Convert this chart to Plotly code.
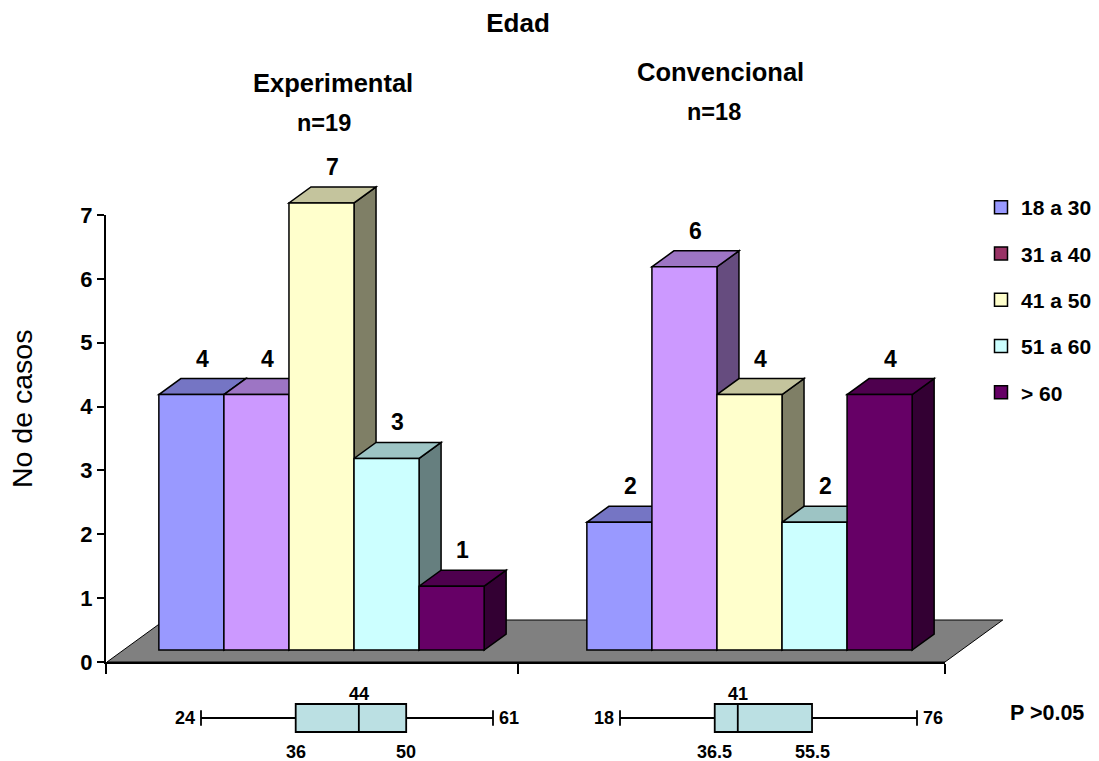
import plotly.graph_objects as go

# ---------------- data ----------------
groups = ["Experimental", "Convencional"]
group_n = ["n=19", "n=18"]
age_ranges = ["18 a 30", "31 a 40", "41 a 50", "51 a 60", "> 60"]
counts_experimental = [4, 4, 7, 3, 1]
counts_convencional = [2, 6, 4, 2, 4]
y_ticks = [0, 1, 2, 3, 4, 5, 6, 7]
box_experimental = {"lowerfence": 24, "q1": 36, "median": 44, "q3": 50, "upperfence": 61}
box_convencional = {"lowerfence": 18, "q1": 36.5, "median": 41, "q3": 55.5, "upperfence": 76}
title_text = "Edad"
y_title = "No de casos"
p_text = "P >0.05"

# ---------------- styles ----------------
bar_colors = ["#9999FF", "#CC99FF", "#FFFFCC", "#CCFFFF", "#660066"]
legend_colors = ["#9999FF", "#993366", "#FFFFCC", "#CCFFFF", "#660066"]
FONT = "Liberation Sans, Arial, sans-serif"
W, H = 1099, 761


def shade(hex_color, f):
    h = hex_color.lstrip("#")
    r, g, b = (int(h[i:i + 2], 16) for i in (0, 2, 4))
    return "#%02X%02X%02X" % (int(r * f), int(g * f), int(b * f))


def dom_x(a, b):
    return [a / W, b / W]


def dom_y(top, bottom):
    return [1 - bottom / H, 1 - top / H]


# layout geometry (pixels) of the bars' front plane
CAT0_PX, CAT_PX = 321.5, 428.0      # group 0 centre, px per category
ZERO_PX, UNIT_PX = 650.0, 63.86      # value-0 line of bar fronts, px per case
DATA_DOM_X = (100, 1015)
DATA_DOM_Y = (150, 672)
x_range = [(DATA_DOM_X[0] - CAT0_PX) / CAT_PX, (DATA_DOM_X[1] - CAT0_PX) / CAT_PX]
y_range = [(ZERO_PX - DATA_DOM_Y[1]) / UNIT_PX, (ZERO_PX - DATA_DOM_Y[0]) / UNIT_PX]
DX = 22 / CAT_PX     # depth vector in data units
DY = 16 / UNIT_PX
FLOOR_X = (-0.4626, 1.4953)          # floor extent (category units)
FLOOR_FRONT, FLOOR_BACK = -0.75, 1.875  # in bar-depth units
BARGAP = 0.24
slot = 1 - BARGAP
bw = slot / len(age_ranges)

fig = go.Figure()

series = [[counts_experimental[i], counts_convencional[i]] for i in range(len(age_ranges))]
gpos = list(range(len(groups)))

# front faces
for i, name in enumerate(age_ranges):
    fig.add_trace(go.Bar(
        x=gpos, y=series[i], name=name, showlegend=False,
        marker=dict(color=bar_colors[i], line=dict(color="black", width=1.5)),
        hoverinfo="skip", xaxis="x", yaxis="y"))

# legend entries
for i, name in enumerate(age_ranges):
    fig.add_trace(go.Scatter(
        x=[None], y=[None], mode="markers", name=name, legendgroup=name,
        marker=dict(symbol="square", size=13, color=legend_colors[i],
                    line=dict(color="black", width=1.5)),
        xaxis="x", yaxis="y"))

# placeholder so the visible value / category axes get drawn
fig.add_trace(go.Scatter(x=[None], y=[None], mode="markers", showlegend=False,
                         hoverinfo="skip", xaxis="x2", yaxis="y2"))


def path(pts):
    return "M " + " L ".join("%f,%f" % p for p in pts) + " Z"


shapes = []
# floor
fx0, fx1 = FLOOR_X
floor = [(fx0 + FLOOR_FRONT * DX, FLOOR_FRONT * DY), (fx1 + FLOOR_FRONT * DX, FLOOR_FRONT * DY),
         (fx1 + FLOOR_BACK * DX, FLOOR_BACK * DY), (fx0 + FLOOR_BACK * DX, FLOOR_BACK * DY)]
shapes.append(dict(type="path", path=path(floor), xref="x", yref="y", layer="below",
                   fillcolor="#808080", line=dict(color="black", width=1)))

annotations = []
for g in gpos:
    for i in range(len(age_ranges)):
        v = series[i][g]
        x0 = g - slot / 2 + i * bw
        x1 = x0 + bw
        side = [(x1, 0), (x1, v), (x1 + DX, v + DY), (x1 + DX, DY)]
        top = [(x0, v), (x1, v), (x1 + DX, v + DY), (x0 + DX, v + DY)]
        shapes.append(dict(type="path", path=path(side), xref="x", yref="y", layer="below",
                           fillcolor=shade(bar_colors[i], 0.5), line=dict(color="black", width=1.5)))
        shapes.append(dict(type="path", path=path(top), xref="x", yref="y", layer="below",
                           fillcolor=shade(bar_colors[i], 0.77), line=dict(color="black", width=1.5)))
        annotations.append(dict(x=(x0 + x1) / 2 + DX / 2, y=v + DY, xref="x", yref="y",
                                text=str(v), showarrow=False, yshift=20, yanchor="middle",
                                font=dict(family=FONT, size=23, color="black", weight="bold")))

# group headings
heading_px = [((333, 83), (324, 123)), ((720, 72), (714, 112))]
for g, ((hx, hy), (nx, ny)) in enumerate(heading_px):
    annotations.append(dict(x=hx / W, y=1 - hy / H, xref="paper", yref="paper", text=groups[g],
                            showarrow=False, xanchor="center", yanchor="middle",
                            font=dict(family=FONT, size=25.5, color="black", weight="bold")))
    annotations.append(dict(x=nx / W, y=1 - ny / H, xref="paper", yref="paper", text=group_n[g],
                            showarrow=False, xanchor="center", yanchor="middle",
                            font=dict(family=FONT, size=23.5, color="black", weight="bold")))

# y axis title
annotations.append(dict(x=22 / W, y=1 - 409 / H, xref="paper", yref="paper", text=y_title,
                        textangle=-90, showarrow=False, xanchor="center", yanchor="middle",
                        font=dict(family=FONT, size=28.5, color="black")))

# box plots (summary under each group)
box_specs = [(box_experimental, "x3", "y3", (201, 493), (170, 530)),
             (box_convencional, "x4", "y4", (620, 917), (585, 955))]
box_axes = {}
for stats, xa, ya, (p_lo, p_hi), (d0, d1) in box_specs:
    s = (p_hi - p_lo) / (stats["upperfence"] - stats["lowerfence"])
    rng = [stats["lowerfence"] - (p_lo - d0) / s, stats["upperfence"] + (d1 - p_hi) / s]
    box_axes[xa] = (dom_x(d0, d1), rng)
    fig.add_trace(go.Box(
        y=[0], q1=[stats["q1"]], median=[stats["median"]], q3=[stats["q3"]],
        lowerfence=[stats["lowerfence"]], upperfence=[stats["upperfence"]],
        orientation="h", width=1, whiskerwidth=0.55, boxpoints=False,
        fillcolor="#BBE0E3", line=dict(color="black", width=1.8),
        showlegend=False, hoverinfo="skip", xaxis=xa, yaxis=ya))
    bf = dict(family=FONT, size=18, color="black", weight="bold")
    annotations += [
        dict(x=stats["lowerfence"], y=0, xref=xa, yref=ya, text=str(stats["lowerfence"]),
             showarrow=False, xanchor="right", xshift=-4, font=bf),
        dict(x=stats["upperfence"], y=0, xref=xa, yref=ya, text=str(stats["upperfence"]),
             showarrow=False, xanchor="left", xshift=4, font=bf),
        dict(x=stats["median"], y=0.5, xref=xa, yref=ya, text=str(stats["median"]),
             showarrow=False, yanchor="bottom", yshift=-2, font=bf),
        dict(x=stats["q1"], y=-0.5, xref=xa, yref=ya, text=str(stats["q1"]),
             showarrow=False, yanchor="top", yshift=-8, font=bf),
        dict(x=stats["q3"], y=-0.5, xref=xa, yref=ya, text=str(stats["q3"]),
             showarrow=False, yanchor="top", yshift=-8, font=bf),
    ]

annotations.append(dict(x=1047 / W, y=1 - 713 / H, xref="paper", yref="paper", text=p_text,
                        showarrow=False, xanchor="center", yanchor="middle",
                        font=dict(family=FONT, size=21.5, color="black", weight="bold")))

hidden = dict(visible=False, showgrid=False, zeroline=False)
fig.update_layout(
    width=W, height=H, autosize=False,
    margin=dict(l=0, r=0, t=0, b=0, pad=0, autoexpand=False),
    paper_bgcolor="white", plot_bgcolor="rgba(0,0,0,0)",
    barmode="group", bargap=BARGAP, bargroupgap=0,
    font=dict(family=FONT, color="black"),
    title=dict(text=title_text, x=518 / W, y=1 - 23 / H, xanchor="center", yanchor="middle",
               font=dict(family=FONT, size=26, color="black", weight="bold")),
    xaxis=dict(domain=dom_x(*DATA_DOM_X), range=x_range, anchor="y", automargin=False, **hidden),
    yaxis=dict(domain=dom_y(*DATA_DOM_Y), range=y_range, anchor="x", automargin=False, **hidden),
    xaxis2=dict(domain=dom_x(106, 945), range=[FLOOR_X[0] - 1e-6, FLOOR_X[1] + 1e-6], anchor="y2",
                showline=True, linecolor="black", linewidth=2, ticks="outside", ticklen=10,
                tickwidth=2, tickcolor="black", tickvals=[FLOOR_X[0], 0.5, FLOOR_X[1]],
                showticklabels=False, showgrid=False, zeroline=False, fixedrange=True,
                automargin=False),
    yaxis2=dict(domain=dom_y(215, 662), range=[0, 7], anchor="x2",
                showline=True, linecolor="black", linewidth=2, ticks="outside", ticklen=7,
                tickwidth=2, tickcolor="black", tickvals=y_ticks,
                tickfont=dict(family=FONT, size=22, color="black", weight="bold"),
                showgrid=False, zeroline=False, fixedrange=True, automargin=False),
    xaxis3=dict(domain=box_axes["x3"][0], range=box_axes["x3"][1], anchor="y3", automargin=False, **hidden),
    yaxis3=dict(domain=dom_y(690, 746), range=[-1, 1], anchor="x3", automargin=False, **hidden),
    xaxis4=dict(domain=box_axes["x4"][0], range=box_axes["x4"][1], anchor="y4", automargin=False, **hidden),
    yaxis4=dict(domain=dom_y(690, 746), range=[-1, 1], anchor="x4", automargin=False, **hidden),
    legend=dict(x=981 / W, y=1 - 187 / H, xanchor="left", yanchor="top",
                font=dict(family=FONT, size=21, color="black", weight="bold"),
                tracegroupgap=16, bgcolor="rgba(0,0,0,0)", itemclick=False),
    shapes=shapes, annotations=annotations,
)

fig.write_html("out.html", config={"displayModeBar": False, "responsive": False},
               post_script="document.body.style.margin='0';document.body.style.overflow='hidden';")
